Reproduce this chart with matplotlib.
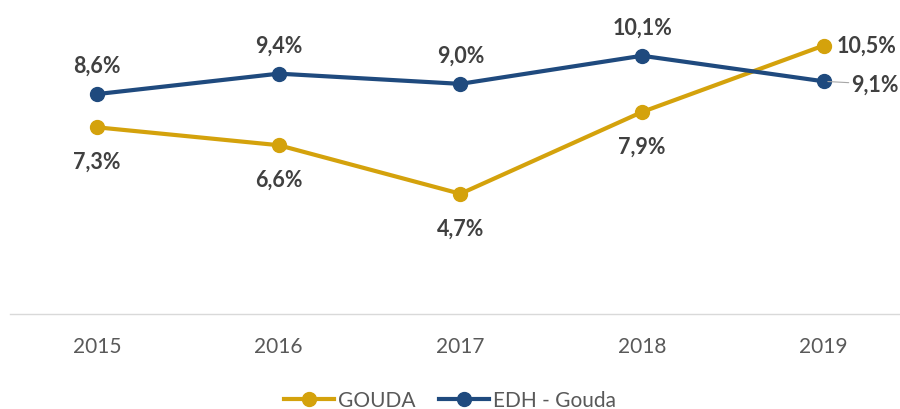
import matplotlib
matplotlib.use("Agg")
import matplotlib.pyplot as plt

# ── DATOS ──────────────────────────
years = ["2015", "2016", "2017", "2018", "2019"]
gouda = [7.3, 6.6, 4.7, 7.9, 10.5]
edh = [8.6, 9.4, 9.0, 10.1, 9.1]

GOLD = "#D4A20C"
BLUE = "#1F4A7E"
LABEL = "#404040"
TICK = "#595959"

plt.rcParams["font.family"] = ["Lato", "DejaVu Sans"]

fig = plt.figure(figsize=(9, 4.1), dpi=100)
ax = fig.add_axes([0.011, 0.232, 0.989, 0.748])

x = range(len(years))
ax.plot(x, gouda, color=GOLD, lw=3, marker="o", ms=10, label="GOUDA", zorder=3)
ax.plot(x, edh, color=BLUE, lw=3, marker="o", ms=10, label="EDH - Gouda", zorder=3)

fmt = lambda v: f"{v:.1f}%".replace(".", ",")

# etiquetas GOUDA (debajo, la última a la derecha)
for i, v in enumerate(gouda):
    if i == len(gouda) - 1:
        ax.annotate(fmt(v), (i, v), xytext=(9, 0), textcoords="offset points",
                    ha="left", va="center", fontsize=15.5, fontweight="bold", color=LABEL)
    else:
        ax.annotate(fmt(v), (i, v), xytext=(0, -17), textcoords="offset points",
                    ha="center", va="top", fontsize=15.5, fontweight="bold", color=LABEL)

# etiquetas EDH (encima, la última a la derecha con línea guía)
for i, v in enumerate(edh):
    if i == len(edh) - 1:
        ax.annotate(fmt(v), (i, v), xytext=(20, -2), textcoords="offset points",
                    ha="left", va="center", fontsize=15.5, fontweight="bold", color=LABEL,
                    arrowprops=dict(arrowstyle="-", color="#A6A6A6", lw=0.8,
                                    shrinkA=0, shrinkB=3))
    else:
        ax.annotate(fmt(v), (i, v), xytext=(0, 13), textcoords="offset points",
                    ha="center", va="bottom", fontsize=15.5, fontweight="bold", color=LABEL)

ax.set_xlim(-0.48, 4.42)
ax.set_ylim(0, 12)
ax.set_xticks(list(x))
ax.set_xticklabels(years, fontsize=15, color=TICK)
ax.set_yticks([])
ax.tick_params(axis="x", length=0, pad=16)
for s in ["top", "right", "left"]:
    ax.spines[s].set_visible(False)
ax.spines["bottom"].set_color("#D9D9D9")
ax.spines["bottom"].set_linewidth(1)

leg = fig.legend(loc="center", bbox_to_anchor=(0.5, 0.022), ncol=2, frameon=False,
                 fontsize=15, handlelength=2.4, columnspacing=1.1, handletextpad=0.2,
                 borderaxespad=0)
for t in leg.get_texts():
    t.set_color(TICK)

fig.savefig("out.png", dpi=100, facecolor="white")
